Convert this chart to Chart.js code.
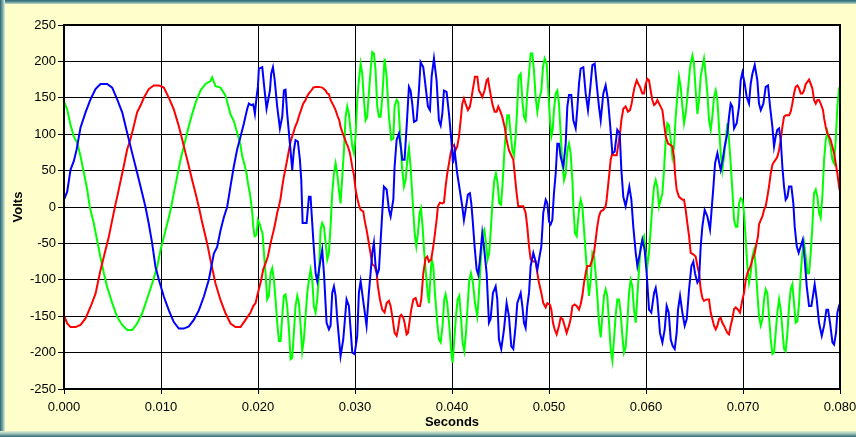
<!DOCTYPE html>
<html>
<head>
<meta charset="utf-8">
<title>Volts vs Seconds</title>
<script src="https://cdn.jsdelivr.net/npm/chart.js@4.4.1/dist/chart.umd.min.js"></script>
<style>
  html, body { margin: 0; padding: 0; background: #FFFFCC; }
  #frame { position: relative; width: 856px; height: 437px; overflow: hidden; background: #FFFFCC; }
  .edge { position: absolute; }
  #edgeTop { left: 0; top: 0; width: 856px; height: 4px; background: linear-gradient(#2c6670, #5f959c 50%, #c9dcc4); }
  #edgeLeft { left: 0; top: 0; width: 5px; height: 437px; background: linear-gradient(to right, #2c6670, #6b9ea3 45%, #e3eed0); }
  #edgeBottom { left: 0; bottom: 0; width: 856px; height: 6px; background: linear-gradient(#e6efcf, #9cc3bb 45%, #2c6670); }
  canvas { position: absolute; left: 0; top: 0; }
</style>
</head>
<body>
<div id="frame">
  <div class="edge" id="edgeTop"></div>
  <div class="edge" id="edgeLeft"></div>
  <div class="edge" id="edgeBottom"></div>
  <canvas id="voltsChart" width="856" height="437"></canvas>
</div>
<script>
// axis ticks
const xTickValues = [0, 0.01, 0.02, 0.03, 0.04, 0.05, 0.06, 0.07, 0.08];
const yTickValues = [-250, -200, -150, -100, -50, 0, 50, 100, 150, 200, 250];

// [seconds, volts]
const blueVolts = [
  [0,10],[0.00033,21],[0.00067,51],[0.00101,63],[0.0013,79],[0.0017,109],[0.00222,130],[0.00274,148],[0.00325,162],[0.00376,169],
  [0.00445,169],[0.00497,164],[0.00548,148],[0.006,130],[0.00651,102],[0.00703,74],[0.00754,47],[0.00806,19],[0.0084,0],[0.00874,-23],
  [0.00909,-50],[0.00943,-82],[0.00978,-100],[0.01029,-123],[0.01081,-142],[0.01132,-158],[0.01184,-167],[0.01235,-167],[0.01287,-164],[0.01338,-155],
  [0.0139,-142],[0.01442,-123],[0.01493,-100],[0.01545,-64],[0.01579,-55],[0.01614,-32],[0.01648,-14],[0.01682,0],[0.01716,28],[0.01751,56],
  [0.01785,79],[0.01813,93],
  [0.01855,115],[0.01889,135],[0.01906,142],[0.0193,140],[0.01951,141],[0.01968,128],[0.01985,151],[0.01999,165],[0.02009,190],[0.02044,192],
  [0.02061,169],[0.02088,135],[0.02123,160],[0.02136,183],[0.02154,192],[0.02171,176],[0.02198,138],[0.02226,108],[0.0225,124],[0.02267,160],
  [0.02284,161],[0.02301,128],[0.02329,87],[0.02353,51],[0.0237,78],[0.02387,92],[0.02411,90],[0.02432,65],[0.02446,37],[0.0246,-22],
  [0.02501,-22],[0.02525,14],[0.02542,14],[0.0257,-45],[0.02594,-91],[0.02611,-102],[0.02645,-72],[0.02662,-59],[0.0268,-91],[0.02707,-159],
  [0.02731,-168],[0.02748,-163],[0.02765,-118],[0.02783,-109],[0.028,-122],[0.02817,-154],[0.02851,-205],[0.02879,-182],[0.02913,-127],[0.02937,-136],
  [0.02972,-200],[0.02996,-202],[0.03023,-177],[0.0304,-118],[0.03058,-102],[0.03092,-136],[0.03119,-163],[0.03143,-118],[0.03178,-63],[0.03195,-49],
  [0.03212,-81],[0.03229,-93],[0.03247,-86],[0.03281,-8],
  [0.03298,28],[0.03326,24],[0.0335,-4],[0.03367,-13],[0.03395,10],[0.03408,55],[0.03429,92],[0.03453,101],[0.03477,78],[0.03487,65],
  [0.03511,65],[0.03532,110],[0.03556,165],[0.03573,160],[0.0359,142],[0.03608,117],[0.03635,119],[0.03659,160],[0.03676,199],[0.03704,192],
  [0.03728,165],[0.03752,138],[0.03773,133],[0.0379,179],[0.03814,204],[0.03841,174],[0.03865,119],[0.03883,112],[0.039,128],[0.03917,160],
  [0.03944,158],[0.03969,128],[0.03993,92],[0.0401,60],[0.04027,78],[0.04054,46],[0.04106,1],[0.04123,-18],[0.0414,-4],[0.04164,17],
  [0.04185,19],[0.04199,5],[0.04213,-18],[0.04233,-54],[0.04254,-86],[0.04271,-93],[0.04288,-72],[0.04312,-36],[0.04329,-54],[0.04357,-91],
  [0.04381,-159],[0.04398,-154],[0.04422,-118],[0.0445,-109],[0.04467,-127],[0.04484,-182],[0.04508,-195],[0.04536,-168],[0.04563,-132],[0.04587,-150],
  [0.04611,-191],[0.04632,-195],[0.04656,-163],[0.04673,-132],
  [0.04708,-118],[0.04725,-136],[0.04742,-159],[0.04759,-166],[0.04776,-136],[0.04794,-118],[0.04811,-81],[0.04838,-63],[0.04862,-75],[0.0488,-86],
  [0.04897,-72],[0.04921,-54],[0.04941,-8],[0.04966,10],[0.04983,5],[0.05,-20],[0.05017,-24],[0.05034,-18],[0.05051,19],[0.05069,46],
  [0.05086,87],[0.05103,87],[0.0512,69],[0.05148,55],[0.05172,87],[0.05189,138],[0.05206,154],[0.0523,154],[0.05251,119],[0.05275,108],
  [0.05292,135],[0.05309,169],[0.05326,190],[0.05354,192],[0.05378,156],[0.05402,133],[0.05423,160],[0.05447,195],[0.05471,197],[0.05491,169],
  [0.05515,138],[0.05533,119],[0.0556,156],[0.05584,167],[0.05608,147],[0.05629,115],[0.05653,74],[0.05677,76],[0.05704,106],[0.05729,101],
  [0.05746,51],[0.05766,14],[0.0579,1],[0.05808,14],[0.05828,28],[0.05849,10],[0.05869,-27],[0.05894,-63],[0.05911,-81],[0.05938,-63],
  [0.05962,-45],[0.05986,-59],[0.06007,-91],[0.06031,-141],[0.06055,-145],[0.06083,-118],[0.061,-111],[0.06117,-127],[0.06144,-173],
  [0.06169,-186],[0.06193,-168],[0.06213,-136],[0.06234,-145],[0.06255,-182],[0.06275,-191],[0.06296,-195],[0.06316,-173],[0.0633,-141],[0.06351,-122],
  [0.06375,-145],[0.06399,-163],[0.0642,-154],[0.06444,-113],[0.06468,-81],[0.06488,-75],[0.06505,-91],[0.0653,-104],[0.06547,-100],[0.06564,-54],
  [0.06581,-27],[0.06605,-4],[0.06633,-13],[0.0666,-31],[0.06674,-8],[0.06695,28],[0.06712,60],[0.06736,74],[0.06756,60],[0.0677,51],
  [0.06791,65],[0.06811,83],[0.06839,101],[0.06856,124],[0.06873,142],[0.0689,138],[0.06908,108],[0.06935,115],[0.06959,138],[0.06976,174],
  [0.06994,185],[0.07018,169],[0.07038,151],[0.07062,142],[0.07079,169],[0.07097,183],[0.07121,195],[0.07148,174],[0.07165,142],[0.07183,133],
  [0.0721,142],[0.07234,165],[0.07258,167],[0.07279,138],[0.07303,110],[0.0732,83],[0.07337,97],[0.07354,106],[0.07372,108],[0.07389,92],
  [0.07406,55],[0.07423,28],[0.0744,10],[0.07458,14],[0.07475,28],[0.07499,28],[0.07519,5],[0.07533,-27],[0.07554,-54],[0.07574,-63],
  [0.07595,-54],[0.07616,-45],[0.07636,-72],[0.07657,-109],[0.07681,-136],[0.07705,-136],[0.07726,-118],[0.07739,-106],[0.0776,-127],[0.07784,-159],
  [0.07812,-177],[0.07836,-163],[0.0786,-141],[0.07877,-141],[0.07897,-159],[0.07922,-186],[0.07939,-189],[0.07959,-173],[0.07973,-145],[0.0799,-136],
  [0.08,-132]
];

const redVolts = [
  [0,-149],[0.00033,-160],[0.00067,-165],[0.00119,-165],[0.0017,-162],[0.00222,-153],[0.00274,-137],[0.00325,-119],[0.00376,-87],[0.00428,-59],
  [0.00462,-41],[0.00497,-18],[0.00531,4],[0.00555,18],[0.00582,35],[0.00616,56],[0.00651,79],[0.00685,93],[0.00719,111],[0.00754,130],
  [0.00788,139],[0.00823,150],[0.00874,162],[0.00926,167],[0.00977,167],[0.01029,164],[0.01081,150],[0.01132,134],[0.01184,111],[0.01218,93],
  [0.01253,74],[0.01287,56],[0.01321,37],[0.01356,19],[0.0139,0],[0.01424,-21],[0.01476,-50],[0.0151,-73],[0.01562,-105],[0.01614,-128],
  [0.01665,-146],[0.01717,-160],[0.01768,-165],[0.0182,-165],[0.01871,-155],
  [0.01923,-145],[0.01951,-136],[0.01975,-132],[0.01992,-122],[0.02009,-113],[0.02033,-100],[0.02054,-86],[0.02078,-77],[0.02102,-68],[0.02123,-54],
  [0.02147,-40],[0.02164,-31],[0.02181,-20],[0.02198,-8],[0.02216,1],[0.02233,12],[0.0225,28],[0.02267,42],[0.02284,53],[0.02301,65],
  [0.02319,78],[0.02336,90],[0.02363,101],[0.0238,109],[0.02405,117],[0.02425,126],[0.02446,134],[0.02466,142],[0.0249,147],[0.02501,151],
  [0.02525,156],[0.02549,160],[0.0257,164],[0.02594,165],[0.02628,165],[0.02662,164],[0.02697,160],[0.02714,156],[0.02731,155],[0.02748,147],
  [0.02776,140],[0.028,133],[0.02817,126],[0.02838,119],[0.02851,110],[0.02869,103],[0.02886,97],[0.02913,87],[0.02927,83],[0.02948,74],
  [0.02972,55],[0.02989,44],[0.03006,24],[0.03023,12],[0.0304,3],[0.03058,-4],[0.03085,-6],[0.03099,-18],[0.03119,-31],[0.03137,-45],
  [0.03154,-59],[0.03178,-79],[0.03202,-81],[0.03223,-91],[0.03236,-109],[0.03257,-127],
  [0.03281,-141],[0.03305,-145],[0.03326,-132],[0.0335,-129],[0.03367,-136],[0.03384,-150],[0.03408,-173],[0.03429,-177],[0.03443,-168],[0.03463,-150],
  [0.03477,-148],[0.03498,-152],[0.03511,-159],[0.03532,-175],[0.03546,-173],[0.03566,-154],[0.0358,-141],[0.03601,-127],[0.03625,-125],[0.03649,-136],
  [0.0367,-136],[0.03683,-127],[0.03704,-91],[0.03728,-70],[0.03745,-68],[0.03762,-75],[0.03786,-72],[0.03807,-54],[0.03821,-40],[0.03841,-18],
  [0.03855,1],[0.03876,6],[0.039,5],[0.03917,6],[0.03934,28],[0.03951,46],[0.03969,60],[0.03986,74],[0.04003,83],[0.0402,85],
  [0.04037,78],[0.04054,83],[0.04072,97],[0.04089,119],[0.04106,142],[0.04123,149],[0.0414,142],[0.04164,133],[0.04185,138],[0.04202,151],
  [0.04219,165],[0.04237,179],[0.04261,179],[0.04278,160],[0.04295,156],[0.04312,151],[0.04336,160],[0.04357,174],[0.04371,176],[0.04391,160],
  [0.04415,142],[0.04439,131],[0.0446,131],[0.04477,138],[0.04494,133],[0.04518,124],[0.04543,110],[0.04563,92],[0.04587,78],[0.04611,71],
  [0.04632,65],[0.04646,46],[0.04666,19],[0.04683,1],
  [0.04708,1],[0.04735,1],[0.04759,-8],[0.04776,-27],[0.04794,-54],[0.04811,-72],[0.04838,-75],[0.04862,-75],[0.0488,-91],[0.04897,-104],
  [0.04921,-118],[0.04941,-132],[0.04966,-138],[0.04983,-132],[0.0501,-134],[0.05024,-141],[0.05041,-159],[0.05058,-168],[0.05079,-175],[0.05103,-163],
  [0.0512,-152],[0.05141,-154],[0.05161,-163],[0.05182,-173],[0.05206,-163],[0.05223,-154],[0.05241,-136],[0.05265,-134],[0.05285,-136],[0.05309,-141],
  [0.05326,-134],[0.05344,-122],[0.05361,-104],[0.05378,-91],[0.05395,-81],[0.05423,-81],[0.05447,-72],[0.05464,-63],[0.05481,-45],[0.05498,-27],
  [0.05515,-13],[0.05533,-6],[0.0556,-4],[0.05584,1],[0.05594,10],[0.05608,28],[0.05622,46],[0.05636,65],[0.05653,74],[0.0567,71],
  [0.05698,71],[0.05711,83],[0.05732,101],[0.05746,119],[0.05766,135],[0.0579,138],[0.05814,131],[0.05835,133],[0.05852,142],[0.05869,156],
  [0.05883,165],[0.05904,174],[0.05921,169],[0.05938,165],[0.05962,156],[0.05979,156],[0.05997,169],[0.06014,176],[0.06031,174],[0.06048,160],
  [0.06065,147],[0.06083,140],[0.061,142],[0.06117,147],
  [0.06169,133],[0.06186,115],[0.06203,97],[0.06227,87],[0.06255,85],[0.06272,83],[0.06289,69],[0.06299,46],[0.06316,24],[0.0634,14],
  [0.06375,10],[0.06392,10],[0.06409,-4],[0.06426,-22],[0.06444,-40],[0.06461,-63],[0.06488,-65],[0.06512,-68],[0.0653,-81],[0.06547,-91],
  [0.06564,-113],[0.06581,-125],[0.06598,-129],[0.06626,-127],[0.0665,-127],[0.06667,-145],[0.06684,-154],[0.06701,-163],[0.06719,-168],[0.06736,-163],
  [0.06753,-154],[0.0677,-152],[0.06787,-159],[0.06804,-163],[0.06839,-173],[0.06856,-175],[0.06873,-163],[0.0689,-154],[0.06908,-140],[0.06925,-138],
  [0.06949,-141],[0.06969,-145],[0.06994,-127],[0.07011,-118],[0.07028,-100],[0.07045,-91],[0.07062,-86],[0.07079,-81],[0.07097,-72],[0.07121,-63],
  [0.07141,-49],[0.07155,-40],[0.07165,-24],[0.07183,-18],[0.072,-13],[0.07217,-4],[0.07234,1],[0.07251,14],[0.07268,28],[0.07286,46],
  [0.07303,58],[0.0732,62],[0.07337,65],[0.07354,69],[0.07372,78],[0.07389,92],[0.07406,110],[0.07423,124],[0.0744,126],[0.07475,126],
  [0.07492,131],[0.07509,142],[0.07526,156],[0.07543,165],[0.07561,167],[0.07578,163],[0.07595,156],[0.07612,156],[0.07629,160],[0.07647,169],
  [0.07664,172],[0.07681,175],[0.07698,169],[0.07715,163],[0.07732,147],[0.0775,142],[0.07767,147],[0.07784,147],[0.07801,142],[0.07825,133],
  [0.07836,122],[0.07853,110],[0.0787,101],[0.07887,97],[0.07904,92],[0.07921,83],[0.07939,74],[0.07956,60],[0.07973,46],[0.0799,28],
  [0.08,21]
];

const greenVolts = [
  [0,145],[0.00033,134],[0.00067,113],[0.00101,97],[0.00136,88],[0.0017,70],[0.00205,47],[0.00239,24],[0.00266,0],[0.00308,-23],
  [0.00342,-46],[0.00376,-69],[0.00411,-91],[0.00445,-110],[0.00497,-132],[0.00548,-151],[0.006,-162],[0.00651,-169],[0.00703,-169],[0.00754,-160],
  [0.00806,-146],[0.00857,-126],[0.00909,-105],[0.00961,-82],[0.00995,-59],[0.01047,-32],[0.01081,-14],[0.01105,0],[0.01132,19],[0.01167,42],
  [0.01201,65],[0.01235,83],[0.0127,102],[0.01304,120],[0.01356,143],[0.01407,160],[0.01459,169],[0.0151,173],[0.01527,178],[0.01562,166],
  [0.01614,164],[0.01665,153],[0.01717,127],[0.01751,118],[0.01785,102],[0.0182,85],[0.01837,70],[0.01861,58],
  [0.01882,46],[0.01896,33],[0.01916,19],[0.0193,5],[0.01941,-8],[0.01951,-27],[0.01965,-40],[0.01985,-38],[0.01999,-18],[0.0202,-24],
  [0.02033,-31],[0.02047,-36],[0.02061,-63],[0.02078,-91],[0.02095,-127],[0.02112,-122],[0.0213,-91],[0.02147,-84],[0.02164,-100],[0.02181,-127],
  [0.02198,-159],[0.02216,-184],[0.02233,-184],[0.0225,-150],[0.02267,-122],[0.02284,-120],[0.02301,-136],[0.02319,-168],[0.02336,-209],[0.02353,-207],
  [0.0237,-173],[0.02387,-136],[0.02405,-122],[0.02422,-132],[0.02439,-163],[0.02456,-198],[0.02473,-182],[0.0249,-150],[0.02508,-118],[0.02525,-100],
  [0.02542,-86],[0.02559,-100],[0.02576,-136],[0.02594,-145],[0.02611,-127],[0.02628,-95],[0.02645,-31],[0.02662,-22],[0.0268,-27],[0.02697,-49],
  [0.02714,-72],[0.02731,-63],[0.02748,-27],[0.02765,19],[0.02783,46],[0.028,60],[0.02817,46],[0.02834,24],[0.02851,5],[0.02869,42],
  [0.02886,78],[0.02903,124],[0.0292,138],[0.02937,128],[0.02954,106],[0.02972,83],[0.02989,74],[0.03006,97],[0.03023,147],[0.0304,174],
  [0.03058,197],[0.03075,183],[0.03092,147],[0.03109,119],[0.03126,124],[0.03143,156],[0.03161,188],[0.03178,213],[0.03195,211],[0.03212,188],
  [0.03229,138],[0.03247,124],[0.03264,124],[0.03281,151],
  [0.03305,204],[0.03326,179],[0.0335,124],[0.03374,92],[0.03395,94],[0.03408,138],[0.03429,147],[0.03446,144],[0.03463,106],[0.03484,55],
  [0.03505,28],[0.03522,37],[0.03539,65],[0.03556,81],[0.03573,55],[0.03594,10],[0.03615,-36],[0.03632,-54],[0.03649,-36],[0.03666,-8],
  [0.0368,-2],[0.03697,-27],[0.03714,-63],[0.03731,-91],[0.03749,-118],[0.03762,-132],[0.03776,-100],[0.0379,-72],[0.03807,-81],[0.03824,-118],
  [0.03848,-159],[0.03865,-182],[0.03883,-186],[0.03903,-163],[0.0392,-127],[0.03934,-120],[0.03951,-132],[0.03972,-163],[0.03993,-200],[0.04006,-214],
  [0.04024,-182],[0.04041,-150],[0.04058,-127],[0.04075,-122],[0.04092,-150],[0.04109,-186],[0.04127,-198],[0.04144,-173],[0.04161,-136],[0.04178,-100],
  [0.04195,-91],[0.04216,-104],[0.04237,-132],[0.04261,-150],[0.04278,-118],[0.04295,-77],[0.04316,-36],[0.04333,-31],[0.0435,-49],[0.04367,-72],
  [0.04384,-63],[0.04402,-27],[0.04419,10],[0.04436,37],[0.04453,46],[0.0447,33],[0.04487,5],[0.04505,3],[0.04522,33],[0.04539,74],
  [0.04556,106],[0.0457,126],[0.04587,126],[0.04604,101],[0.04622,78],[0.04639,71],[0.04656,97],[0.04673,138],[0.04687,179],
  [0.04708,183],[0.04725,147],[0.04742,124],[0.04759,119],[0.04776,156],[0.04794,183],[0.04811,211],[0.04828,211],[0.04845,188],[0.04862,151],
  [0.0488,131],[0.04897,147],[0.04921,160],[0.04938,192],[0.04955,204],[0.04976,197],[0.0499,165],[0.0501,119],[0.05024,97],[0.05038,106],
  [0.05051,133],[0.05069,156],[0.05086,160],[0.05103,142],[0.0512,101],[0.05137,60],[0.05155,37],[0.05172,46],[0.05189,78],[0.05206,87],
  [0.05223,74],[0.05241,37],[0.05251,1],[0.05268,-36],[0.05285,-40],[0.05309,-4],[0.05326,10],[0.05344,1],[0.05361,-31],[0.05378,-63],
  [0.05395,-95],[0.05412,-122],[0.0543,-100],[0.05447,-63],[0.05464,-68],[0.05481,-91],[0.05498,-122],[0.05515,-159],[0.05533,-179],[0.0555,-150],
  [0.05567,-122],[0.05584,-113],[0.05601,-122],[0.05619,-159],[0.05636,-195],[0.05653,-211],[0.0567,-182],[0.05687,-150],[0.05704,-127],[0.05722,-127],
  [0.05739,-145],[0.05756,-177],[0.05773,-200],[0.0579,-193],[0.05808,-159],[0.05825,-118],[0.05842,-100],[0.05859,-109],[0.05876,-141],[0.05894,-159],
  [0.05911,-122],[0.05928,-86],[0.05945,-54],[0.05962,-45],[0.05979,-40],[0.05997,-63],[0.06014,-81],[0.06031,-63],[0.06048,-31],[0.06065,1],
  [0.06083,28],[0.061,37],[0.06117,28],[0.06134,1],
  [0.06169,19],[0.06186,51],[0.06203,92],[0.0622,115],[0.06237,112],[0.06255,92],[0.06272,69],[0.06289,83],[0.06306,124],[0.06323,151],
  [0.0634,179],[0.06358,165],[0.06375,138],[0.06392,115],[0.06409,128],[0.06426,151],[0.06454,192],[0.06478,208],[0.06495,197],[0.06512,160],
  [0.0653,128],[0.06547,147],[0.06564,179],[0.06581,192],[0.06598,204],[0.06615,183],[0.06633,156],[0.0665,119],[0.06667,106],[0.06684,124],
  [0.06701,151],[0.06719,160],[0.06736,147],[0.06753,110],[0.0677,74],[0.06787,51],[0.06804,69],[0.06822,92],[0.06839,115],[0.06856,92],
  [0.06873,60],[0.0689,24],[0.06908,-18],[0.06925,-27],[0.06942,-27],[0.06959,5],[0.06976,12],[0.06994,10],[0.07011,-8],[0.07028,-45],
  [0.07045,-81],[0.07062,-104],[0.07079,-91],[0.07097,-68],[0.07114,-59],[0.07131,-81],[0.07148,-118],[0.07165,-150],[0.07183,-163],[0.072,-154],
  [0.07217,-127],[0.07234,-113],[0.07251,-118],[0.07268,-150],[0.07286,-182],[0.07303,-202],[0.0732,-200],[0.07337,-173],[0.07354,-145],[0.07372,-127],
  [0.07389,-141],[0.07406,-168],[0.07423,-195],[0.0744,-198],[0.07458,-173],[0.07475,-136],[0.07492,-113],[0.07509,-106],[0.07526,-132],[0.07543,-159],
  [0.07561,-157],[0.07578,-132],[0.07595,-91],[0.07612,-63],[0.07629,-49],[0.07647,-68],[0.07664,-91],[0.07681,-91],[0.07698,-63],[0.07715,-27],
  [0.07732,19],[0.0775,24],[0.07767,14],[0.07784,-8],[0.07801,-15],[0.07818,14],[0.07836,65],[0.07853,92],[0.0787,103],[0.07887,92],
  [0.07904,83],[0.07921,65],[0.07939,60],[0.07956,92],[0.07973,138],[0.0799,163],[0.08,165]
];

const fontFamily = "'Liberation Sans', Arial, sans-serif";

function toXY(points) {
  return points.map(p => ({ x: p[0], y: p[1] }));
}

function makeSeries(points, color) {
  return {
    data: toXY(points),
    borderColor: color,
    backgroundColor: color,
    borderWidth: 2,
    pointRadius: 0,
    fill: false,
    tension: 0
  };
}

// thick black frame round the plot area
const plotOutline = {
  id: 'plotOutline',
  afterDraw(chart) {
    const a = chart.chartArea;
    const ctx = chart.ctx;
    ctx.save();
    ctx.strokeStyle = '#000';
    ctx.lineWidth = 2;
    ctx.strokeRect(a.left, a.top, a.right - a.left, a.bottom - a.top);
    ctx.restore();
  }
};

const plotBackground = {
  id: 'plotBackground',
  beforeDraw(chart) {
    const a = chart.chartArea;
    chart.ctx.save();
    chart.ctx.fillStyle = '#FFFFFF';
    chart.ctx.fillRect(a.left, a.top, a.right - a.left, a.bottom - a.top);
    chart.ctx.restore();
  }
};

const ctx = document.getElementById('voltsChart').getContext('2d');
new Chart(ctx, {
  type: 'line',
  data: {
    datasets: [
      makeSeries(blueVolts, '#0000FF'),
      makeSeries(redVolts, '#FF0000'),
      makeSeries(greenVolts, '#00FF00')
    ]
  },
  options: {
    responsive: false,
    animation: false,
    devicePixelRatio: 1,
    parsing: false,
    layout: { padding: { left: 0, top: 25, right: 16, bottom: 0 } },
    plugins: {
      legend: { display: false },
      tooltip: { enabled: false }
    },
    scales: {
      x: {
        type: 'linear',
        min: 0,
        max: 0.08,
        afterBuildTicks: scale => { scale.ticks = xTickValues.map(v => ({ value: v })); },
        afterFit: scale => { scale.height = 48; scale.paddingLeft = 0; scale.paddingRight = 0; },
        ticks: {
          callback: v => v.toFixed(3),
          color: '#000',
          font: { family: fontFamily, size: 13 },
          padding: 6,
          maxRotation: 0,
          autoSkip: false
        },
        grid: { color: '#000', lineWidth: 1, tickLength: 5, tickColor: '#000' },
        border: { color: '#000', width: 2 },
        title: {
          display: true,
          text: 'Seconds',
          color: '#000',
          font: { family: fontFamily, size: 13, weight: 'bold' },
          padding: { top: 0, bottom: 7 }
        }
      },
      y: {
        type: 'linear',
        min: -250,
        max: 250,
        afterBuildTicks: scale => { scale.ticks = yTickValues.map(v => ({ value: v })); },
        afterFit: scale => { scale.width = 64; scale.paddingTop = 0; scale.paddingBottom = 0; },
        ticks: {
          color: '#000',
          font: { family: fontFamily, size: 13 },
          padding: 2,
          autoSkip: false
        },
        grid: { color: '#000', lineWidth: 1, tickLength: 6, tickColor: '#000' },
        border: { color: '#000', width: 2 },
        title: {
          display: true,
          text: 'Volts',
          color: '#000',
          font: { family: fontFamily, size: 13, weight: 'bold' },
          padding: { top: 11, bottom: 0 }
        }
      }
    }
  },
  plugins: [plotBackground, plotOutline]
});
</script>
</body>
</html>
